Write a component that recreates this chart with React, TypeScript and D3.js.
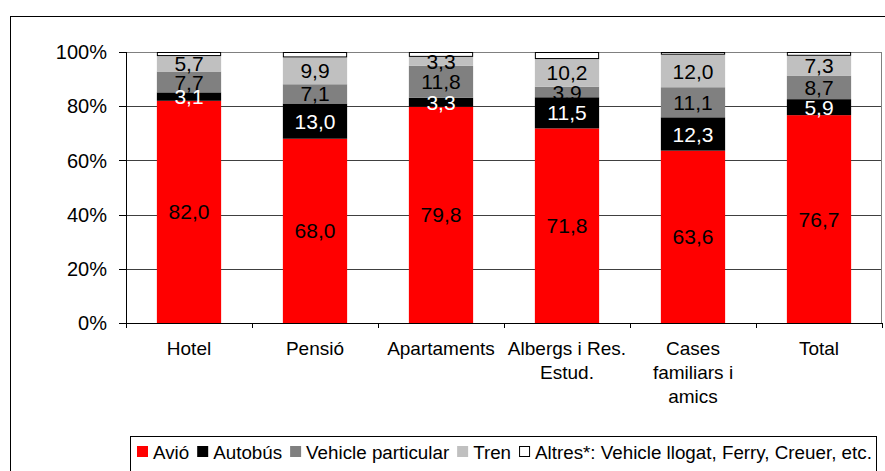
import React from "react";
import * as d3 from "d3";

const categories = ["Hotel", "Pensió", "Apartaments", "Albergs i Res.|Estud.", "Cases|familiars i|amics", "Total"];
const avio = [82.0, 68.0, 79.8, 71.8, 63.6, 76.7];
const autobus = [3.1, 13.0, 3.3, 11.5, 12.3, 5.9];
const vehicle = [7.7, 7.1, 11.8, 3.9, 11.1, 8.7];
const tren = [5.7, 9.9, 3.3, 10.2, 12.0, 7.3];
const altres = [1.5, 2.0, 1.8, 2.6, 1.0, 1.4];
const seriesNames = ["Avió", "Autobús", "Vehicle particular", "Tren", "Altres*: Vehicle llogat, Ferry, Creuer, etc."];
const yTicks = [0, 20, 40, 60, 80, 100];

const FONT = "'Liberation Sans', Arial, sans-serif";
const colors = ["#FF0000", "#000000", "#808080", "#C0C0C0", "#FFFFFF"];
const labelColors = ["#000000", "#FFFFFF", "#000000", "#000000", "#000000"];

function measure(text: string, size: number) {
  const c = document.createElement("canvas").getContext("2d")!;
  c.font = `${size}px 'Liberation Sans', Arial, sans-serif`;
  return c.measureText(text).width;
}

export default function App() {
  const W = 885, H = 471;
  const left = 126, right = 882, top = 52, bottom = 323;
  const x = d3.scaleBand<string>().domain(categories).range([left, right]).paddingInner(0.49).paddingOuter(0.245);
  const y = d3.scaleLinear().domain([0, 100]).range([bottom, top]);
  const allSeries = [avio, autobus, vehicle, tren, altres];
  const rows = categories.map((c, i) => {
    const o: any = { cat: c };
    allSeries.forEach((s, k) => (o["s" + k] = s[i]));
    return o;
  });
  const stack = d3.stack<any>().keys(["s0", "s1", "s2", "s3", "s4"]).offset(d3.stackOffsetExpand)(rows);

  const legFont = 18.8;
  let lx = 137;
  const legItems = seriesNames.map((n, i) => {
    const item = { x: lx, name: n, color: colors[i] };
    lx += 11 + 5 + measure(n, legFont) + 8;
    return item;
  });

  return (
    <svg width={W} height={H} style={{ position: "absolute", left: 0, top: 0, background: "#fff" }} fontFamily={FONT}>
      <rect x={10.5} y={16.5} width={900} height={500} fill="#fff" stroke="#000" />
      {/* gridlines */}
      {yTicks.filter(t => t > 0).map(t => (
        <line key={t} x1={left} x2={right} y1={Math.round(y(t)) + 0.5} y2={Math.round(y(t)) + 0.5} stroke={t === 100 ? "#808080" : "#404040"} />
      ))}
      <line x1={right - 0.5} x2={right - 0.5} y1={Math.round(y(100)) + 0.5} y2={bottom} stroke="#808080" />
      {/* bars */}
      {stack.map((layer, k) => (
        <g key={k}>
          {layer.map((d, i) => (
            <rect key={i} x={x(categories[i])! + (k === 4 ? 0.5 : 0)} width={x.bandwidth() - (k === 4 ? 1 : 0)}
              y={y(d[1] * 100) + (k === 4 ? 0.5 : 0)} height={Math.max(0, y(d[0] * 100) - y(d[1] * 100) - (k === 4 ? 1 : 0))}
              fill={colors[k]} stroke={k === 4 ? "#000" : "none"} strokeWidth={1} />
          ))}
        </g>
      ))}
      {/* value labels */}
      {stack.slice(0, 4).map((layer, k) => (
        <g key={"l" + k}>
          {layer.map((d, i) => (
            <text key={i} x={x(categories[i])! + x.bandwidth() / 2} y={y(((d[0] + d[1]) / 2) * 100)} dy="0.36em"
              textAnchor="middle" fontSize={21} fill={labelColors[k]}>
              {allSeries[k][i].toFixed(1).replace(".", ",")}
            </text>
          ))}
        </g>
      ))}
      {/* axes */}
      <line x1={left + 0.5} x2={left + 0.5} y1={top} y2={bottom + 5} stroke="#000" />
      <line x1={left - 7} x2={right} y1={bottom + 0.5} y2={bottom + 0.5} stroke="#000" />
      {yTicks.map(t => (
        <g key={t}>
          <line x1={left - 7} x2={left} y1={Math.round(y(t)) + 0.5} y2={Math.round(y(t)) + 0.5} stroke="#000" />
          <text x={107} y={y(t)} dy="0.36em" textAnchor="end" fontSize={20} fill="#000">{t}%</text>
        </g>
      ))}
      {categories.map((c, i) => (
        <line key={i} x1={left + 126 * (i + 1) + 0.5} x2={left + 126 * (i + 1) + 0.5} y1={bottom} y2={bottom + 5} stroke="#000" />
      ))}
      {categories.map((c, i) => (
        <text key={c} x={x(c)! + x.bandwidth() / 2} y={355} textAnchor="middle" fontSize={19} fill="#000">
          {c.split("|").map((line, j) => (
            <tspan key={j} x={x(c)! + x.bandwidth() / 2} dy={j === 0 ? 0 : 24}>{line}</tspan>
          ))}
        </text>
      ))}
      {/* legend */}
      <rect x={130.5} y={436.5} width={746} height={50} fill="#fff" stroke="#000" />
      {legItems.map((it, i) => (
        <g key={i}>
          <rect x={it.x + (i === 4 ? 0.5 : 0)} y={446 + (i === 4 ? 0.5 : 0)} width={i === 4 ? 10 : 11} height={i === 4 ? 10 : 11}
            fill={it.color} stroke={i === 4 ? "#000" : "none"} />
          <text x={it.x + 16} y={459} fontSize={legFont} fill="#000">{it.name}</text>
        </g>
      ))}
    </svg>
  );
}
